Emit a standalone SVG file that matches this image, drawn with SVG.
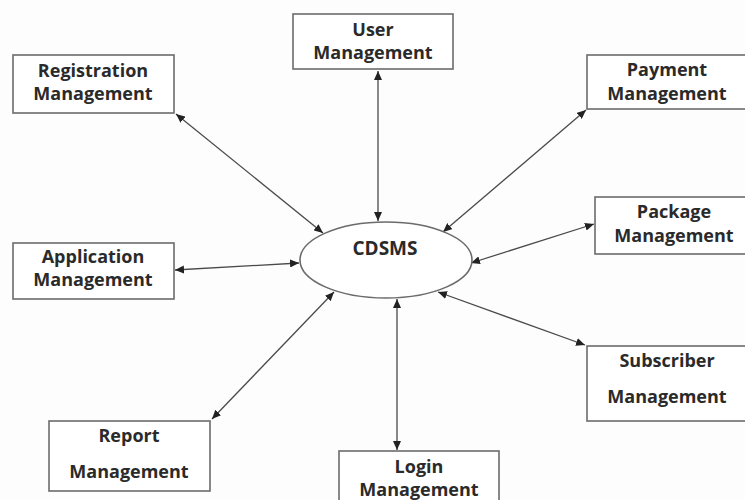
<svg xmlns="http://www.w3.org/2000/svg" width="745" height="500" viewBox="0 0 745 500">
  <style>
    .box { fill: #ffffff; stroke: #6b6b6b; stroke-width: 1.6; }
    .ell { fill: #ffffff; stroke: #6b6b6b; stroke-width: 1.6; }
    .lbl { font-family: "Open Sans", "Liberation Sans", sans-serif; font-weight: bold; font-size: 18px; fill: #2a2a2a; text-anchor: middle; }
    .big { font-size: 19px; }
    .con { stroke: #4a4a4a; stroke-width: 1.3; fill: none; marker-start: url(#ah); marker-end: url(#ah); }
  </style>
  <defs>
    <marker id="ah" markerUnits="userSpaceOnUse" markerWidth="10" markerHeight="8" refX="9" refY="4" orient="auto-start-reverse">
      <path d="M0,0 L9,4 L0,8 Z" fill="#222"/>
    </marker>
  </defs>
  <rect width="745" height="500" fill="#fdfdfd"/>

  <g id="connectors">
    <line class="con" x1="378" y1="71" x2="378" y2="221"/>
    <line class="con" x1="176" y1="114" x2="323" y2="233"/>
    <line class="con" x1="586" y1="110" x2="443" y2="232"/>
    <line class="con" x1="594" y1="224" x2="471" y2="263"/>
    <line class="con" x1="175" y1="270" x2="299" y2="263"/>
    <line class="con" x1="212" y1="419" x2="334" y2="292"/>
    <line class="con" x1="397" y1="299" x2="397" y2="450"/>
    <line class="con" x1="438" y1="292" x2="585" y2="345"/>
  </g>

  <g id="cdsms">
    <ellipse class="ell" cx="386" cy="260" rx="86" ry="38"/>
    <text class="lbl big" x="385" y="255">CDSMS</text>
  </g>

  <g id="user">
    <rect class="box" x="293" y="14" width="160" height="55"/>
    <text class="lbl" x="373" y="36">User</text>
    <text class="lbl" x="373" y="59">Management</text>
  </g>

  <g id="registration">
    <rect class="box" x="13" y="55" width="161" height="58"/>
    <text class="lbl" x="93" y="77">Registration</text>
    <text class="lbl" x="93" y="100">Management</text>
  </g>

  <g id="payment">
    <rect class="box" x="587" y="55" width="160" height="54"/>
    <text class="lbl" x="667" y="76">Payment</text>
    <text class="lbl" x="667" y="100">Management</text>
  </g>

  <g id="package">
    <rect class="box" x="595" y="197" width="152" height="57"/>
    <text class="lbl" x="674" y="218">Package</text>
    <text class="lbl" x="674" y="242">Management</text>
  </g>

  <g id="application">
    <rect class="box" x="13" y="243" width="161" height="56"/>
    <text class="lbl" x="93" y="263">Application</text>
    <text class="lbl" x="93" y="286">Management</text>
  </g>

  <g id="report">
    <rect class="box" x="49" y="421" width="161" height="70"/>
    <text class="lbl" x="129" y="442">Report</text>
    <text class="lbl" x="129" y="478">Management</text>
  </g>

  <g id="subscriber">
    <rect class="box" x="587" y="346" width="160" height="75"/>
    <text class="lbl" x="667" y="367">Subscriber</text>
    <text class="lbl" x="667" y="403">Management</text>
  </g>

  <g id="login">
    <rect class="box" x="339" y="451" width="160" height="55"/>
    <text class="lbl" x="419" y="473">Login</text>
    <text class="lbl" x="419" y="496">Management</text>
  </g>
</svg>
